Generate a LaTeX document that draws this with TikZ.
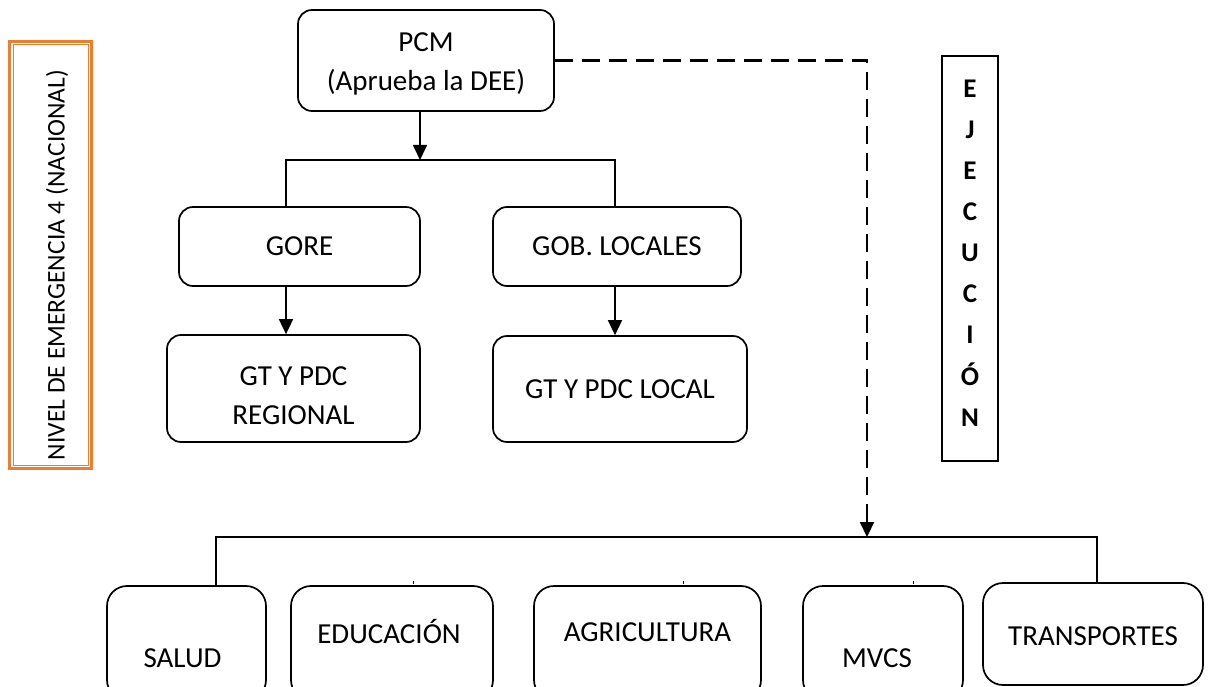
\documentclass[tikz,border=0pt]{standalone}
\usepackage{fontspec}
\setmainfont{Carlito}
\usepackage{xcolor}
\definecolor{naranja}{HTML}{ED7D31}
\usetikzlibrary{arrows.meta,positioning}
\newcommand{\subetxt}[2]{\raisebox{#1}[0pt][0pt]{#2}}

\begin{document}
\begin{tikzpicture}[x=1pt,y=-1pt,line width=1.7pt,
                    main node/.style={draw,rounded corners=14pt,align=center,inner sep=0pt,font=\fontsize{29}{39}\selectfont},
                    base node/.style={main node,rounded corners=20pt,minimum height=114pt},
                    flecha/.style={-{Triangle[width=14pt,length=15pt]}}]
\useasboundingbox (0,0) rectangle (1208,687);

% nivel de emergencia
\node[draw=naranja,line width=3pt,minimum width=82pt,minimum height=427pt,font=\fontsize{25.5}{30}\selectfont] (nivel) at (50.5,255) {\rotatebox{90}{\subetxt{-14pt}{NIVEL DE EMERGENCIA 4 (NACIONAL)}\hspace{20pt}}};
\draw[naranja,line width=1pt] ([shift={(5pt,5pt)}]nivel.south west) rectangle ([shift={(-5pt,-5pt)}]nivel.north east);

% arbol superior
\node[main node,minimum width=256pt,minimum height=101pt] (pcm) at (426,60.5) {\rule{0pt}{26pt}PCM\\(Aprueba la DEE)};
\node[main node,minimum width=241pt,minimum height=79pt] (gore) at (299.5,246.5) {GORE};
\node[main node,minimum width=248pt,minimum height=79pt] (gobl) at (617,246.5) {GOB. LOCALES};
\node[main node,minimum width=253pt,minimum height=107pt] (gtreg) at (293.5,388.5) {\rule{0pt}{34pt}GT Y PDC\\REGIONAL};
\node[main node,minimum width=254pt,minimum height=106pt] (gtloc) at (620,389) {GT Y PDC LOCAL};

\coordinate (ramaTop) at (420,160);
\coordinate (ramaIzq) at (286,160);
\coordinate (ramaDer) at (615,160);

\draw[flecha] (ramaTop |- pcm.south) -- (ramaTop);
\draw (ramaIzq |- gore.north) -- (ramaIzq) -- (ramaDer) -- (ramaDer |- gobl.north);
\draw[flecha] (ramaIzq |- gore.south) -- (ramaIzq |- gtreg.north);
\draw[flecha] (ramaDer |- gobl.south) -- (ramaDer |- gtloc.north);

% ejecucion
\node[draw,line width=1.3pt,minimum width=56pt,minimum height=405pt,align=center,text depth=11pt,font=\bfseries\fontsize{27}{41.1}\selectfont] (ejec) at (970,258.5) {E\\J\\E\\C\\U\\C\\I\\Ó\\N};

% sectores
\node[base node,minimum width=159pt] (salud) at (186.5,643) {\subetxt{-24pt}{SALUD}\hspace{8pt}};
\node[base node,minimum width=202pt] (educ) at (392,643) {\subetxt{0pt}{EDUCACIÓN}\hspace{6pt}};
\node[base node,minimum width=227pt] (agri) at (647.5,643) {\subetxt{2pt}{AGRICULTURA}};
\node[base node,minimum width=160pt] (mvcs) at (883,643) {\subetxt{-24pt}{MVCS}\hspace{12pt}};
\node[base node,minimum width=220pt,minimum height=102pt] (transp) at (1093,634) {\subetxt{-11pt}{TRANSPORTES}};

\coordinate (busIzq) at (216,537);
\coordinate (busMid) at (867,537);
\coordinate (busDer) at (1097,537);

\draw[flecha,line width=2.2pt,dash pattern=on 18pt off 9pt] (pcm.east) -- (pcm.east -| busMid) -- (busMid);
\draw (busIzq |- salud.north) -- (busIzq) -- (busDer) -- (busDer |- transp.north);

\foreach \x in {413,683,913}
   \draw[line width=0.8pt] (\x,581) -- (\x,584);

\end{tikzpicture}
\end{document}
